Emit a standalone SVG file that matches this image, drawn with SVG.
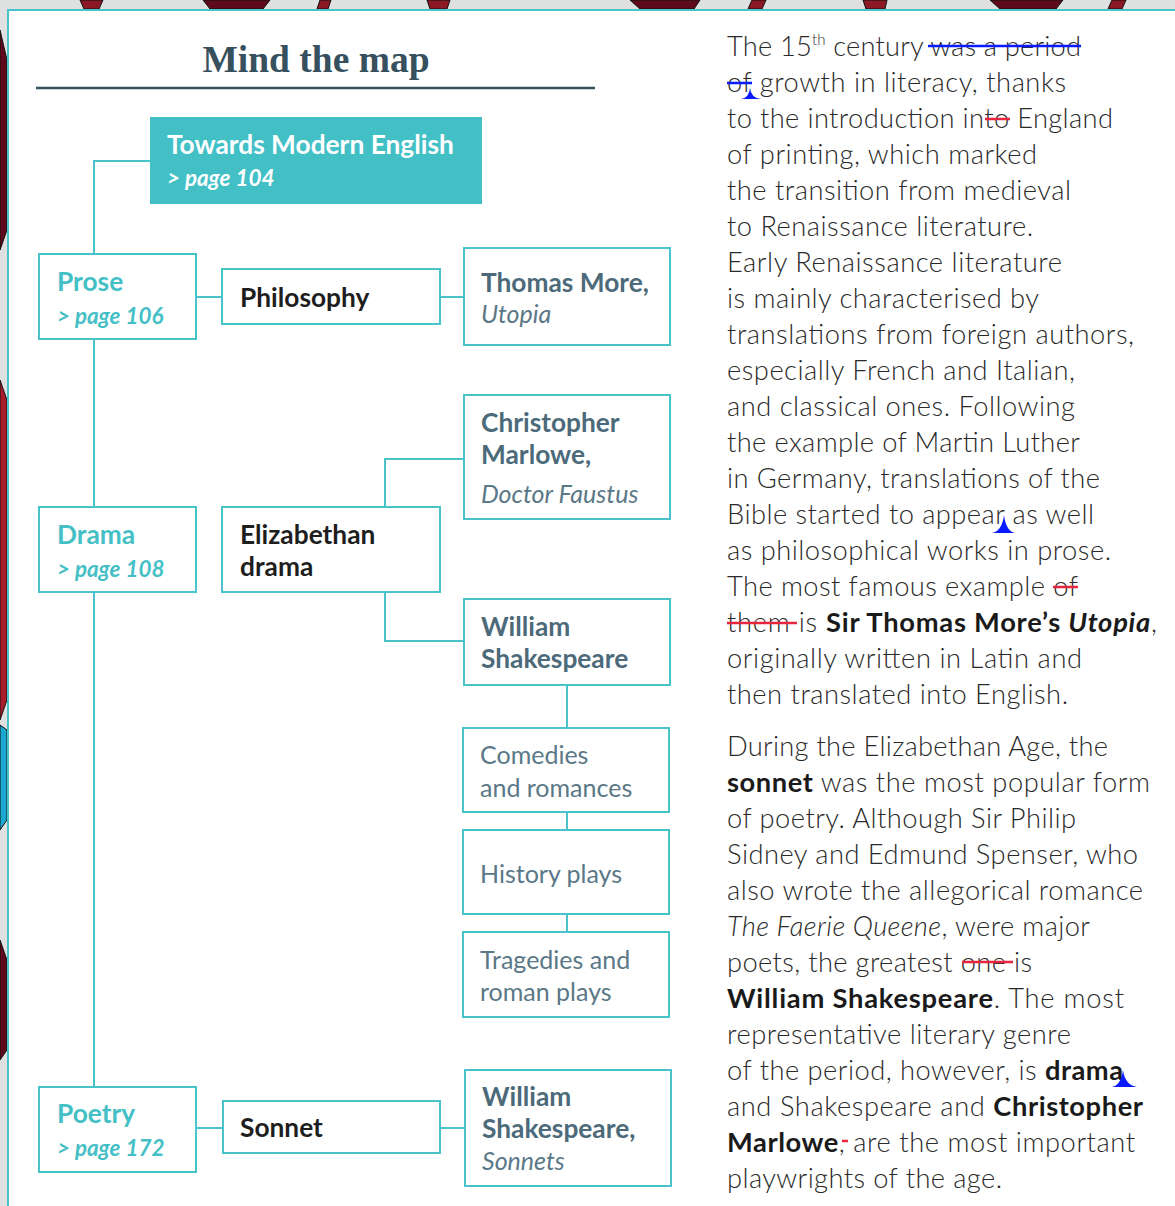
<svg xmlns="http://www.w3.org/2000/svg" width="1175" height="1206" viewBox="0 0 1175 1206">
<style>
.box{fill:#fff;stroke:#48c3c9;stroke-width:2}
.conn{fill:none;stroke:#48c3c9;stroke-width:2}
.lbl{font-family:Lato,'Open Sans',sans-serif;font-size:26.3px}
.pg{font-size:22.4px}
.teal{fill:#45bfc6;font-weight:700}
.tealit{fill:#45bfc6;font-weight:700;font-style:italic}
.slate{fill:#4c6a79;font-weight:700}
.slit{fill:#5a7887;font-style:italic;font-weight:400;font-size:25px}
.sl{fill:#5a7887;font-weight:400;font-size:25px}
.dark{fill:#1e1e1e;font-weight:700}
.body{font-family:Lato,'Open Sans',sans-serif;font-size:27.3px;fill:#2a2a2a;font-weight:300}
.b{font-weight:700;fill:#1a1a1a}
.i{font-style:italic}
.blue{stroke:#0a1aff;stroke-width:2.5}
.red{stroke:#e6263c;stroke-width:2.5}
.caret{fill:#0a1aff}
.deco{stroke:#111;stroke-width:1}
</style>
<rect x="0" y="0" width="1175" height="1206" fill="#dfe1e0"/>
<g id="decor">
<polygon class="deco" fill="#8c1826" points="80,0 103,0 99,9 84,9"/>
<polygon class="deco" fill="#5e0a1c" points="203,0 270,0 263,9 210,9"/>
<polygon class="deco" fill="#8c1826" points="320,0 331,0 328,9 317,9"/>
<polygon class="deco" fill="#8c1826" points="427,0 450,0 447,9 430,9"/>
<polygon class="deco" fill="#5e0a1c" points="630,0 700,0 694,9 640,9"/>
<polygon class="deco" fill="#8c1826" points="752,0 766,0 762,9 748,9"/>
<polygon class="deco" fill="#8c1826" points="863,0 887,0 885,9 866,9"/>
<polygon class="deco" fill="#5e0a1c" points="990,0 1063,0 1056,9 1000,9"/>
<polygon class="deco" fill="#8c1826" points="1112,0 1126,0 1122,9 1108,9"/>
<polygon class="deco" fill="#5e0a1c" points="0,30 7,60 7,230 0,250"/>
<polygon class="deco" fill="#a81c2c" points="0,380 7,400 7,700 0,720"/>
<polygon class="deco" fill="#1aa7d0" points="0,725 7,730 7,820 0,830"/>
<polygon class="deco" fill="#5e0a1c" points="0,940 7,960 7,1050 0,1060"/>
</g>
<rect x="8" y="10" width="1170" height="1200" fill="#fff" stroke="#48c3c9" stroke-width="2"/>
<g id="title">
<text x="316" y="72" text-anchor="middle" font-family="'Liberation Serif',serif" font-weight="700" font-size="37.5" fill="#36505e">Mind the map</text>
<line x1="36" y1="88" x2="595" y2="88" stroke="#36505e" stroke-width="2.5"/>
</g>
<g id="connectors">
<path class="conn" d="M150 161 H94 V254"/>
<path class="conn" d="M94 339 V507"/>
<path class="conn" d="M94 592 V1087"/>
<path class="conn" d="M196 297 H222"/>
<path class="conn" d="M440 297 H464"/>
<path class="conn" d="M385 507 V459 H464"/>
<path class="conn" d="M385 592 V641 H464"/>
<path class="conn" d="M567 685 V728"/>
<path class="conn" d="M567 812 V830"/>
<path class="conn" d="M567 914 V932"/>
<path class="conn" d="M196 1128 H223"/>
<path class="conn" d="M440 1128 H465"/>
</g>
<g id="towards">
<rect x="150" y="117" width="332" height="87" fill="#43bfc6"/>
<text class="lbl" x="167" y="154" fill="#fff" font-weight="700">Towards Modern English</text>
<text class="lbl pg" x="167" y="186" fill="#fff" font-weight="700" font-style="italic">&gt; page 104</text>
</g>
<g id="prose">
<rect class="box" x="39" y="254" width="157" height="85"/>
<text class="lbl teal" x="57" y="291">Prose</text>
<text class="lbl tealit pg" x="57" y="324">&gt; page 106</text>
</g>
<g id="philosophy">
<rect class="box" x="222" y="269" width="218" height="55"/>
<text class="lbl dark" x="240" y="307">Philosophy</text>
</g>
<g id="more">
<rect class="box" x="464" y="248" width="206" height="97"/>
<text class="lbl slate" x="481" y="292">Thomas More,</text>
<text class="lbl slit" x="481" y="323">Utopia</text>
</g>
<g id="marlowe">
<rect class="box" x="464" y="395" width="206" height="124"/>
<text class="lbl slate" x="481" y="432">Christopher</text>
<text class="lbl slate" x="481" y="464">Marlowe,</text>
<text class="lbl slit" x="481" y="503">Doctor Faustus</text>
</g>
<g id="drama">
<rect class="box" x="39" y="507" width="157" height="85"/>
<text class="lbl teal" x="57" y="544">Drama</text>
<text class="lbl tealit pg" x="57" y="577">&gt; page 108</text>
</g>
<g id="elizabethan">
<rect class="box" x="222" y="507" width="218" height="85"/>
<text class="lbl dark" x="240" y="544">Elizabethan</text>
<text class="lbl dark" x="240" y="576">drama</text>
</g>
<g id="shakespeare">
<rect class="box" x="464" y="599" width="206" height="86"/>
<text class="lbl slate" x="481" y="636">William</text>
<text class="lbl slate" x="481" y="668">Shakespeare</text>
</g>
<g id="comedies">
<rect class="box" x="463" y="728" width="206" height="84"/>
<text class="lbl sl" x="480" y="764">Comedies</text>
<text class="lbl sl" x="480" y="797">and romances</text>
</g>
<g id="history">
<rect class="box" x="463" y="830" width="206" height="84"/>
<text class="lbl sl" x="480" y="883">History plays</text>
</g>
<g id="tragedies">
<rect class="box" x="463" y="932" width="206" height="85"/>
<text class="lbl sl" x="480" y="969">Tragedies and</text>
<text class="lbl sl" x="480" y="1001">roman plays</text>
</g>
<g id="poetry">
<rect class="box" x="39" y="1087" width="157" height="85"/>
<text class="lbl teal" x="57" y="1123">Poetry</text>
<text class="lbl tealit pg" x="57" y="1156">&gt; page 172</text>
</g>
<g id="sonnet">
<rect class="box" x="223" y="1101" width="217" height="52"/>
<text class="lbl dark" x="240" y="1137">Sonnet</text>
</g>
<g id="sonnets">
<rect class="box" x="465" y="1070" width="206" height="116"/>
<text class="lbl slate" x="482" y="1106">William</text>
<text class="lbl slate" x="482" y="1138">Shakespeare,</text>
<text class="lbl slit" x="482" y="1170">Sonnets</text>
</g>
<g id="text">
<text class="body" x="727" y="56" textLength="354" lengthAdjust="spacing">The 15<tspan font-size="15" dy="-11">th</tspan><tspan dy="11"> century was a period</tspan></text>
<text class="body" x="727" y="92" textLength="339" lengthAdjust="spacing">of growth in literacy, thanks</text>
<text class="body" x="727" y="128" textLength="386" lengthAdjust="spacing">to the introduction into England</text>
<text class="body" x="727" y="164" textLength="310" lengthAdjust="spacing">of printing, which marked</text>
<text class="body" x="727" y="200" textLength="344" lengthAdjust="spacing">the transition from medieval</text>
<text class="body" x="727" y="236" textLength="306" lengthAdjust="spacing">to Renaissance literature.</text>
<text class="body" x="727" y="272" textLength="335" lengthAdjust="spacing">Early Renaissance literature</text>
<text class="body" x="727" y="308" textLength="312" lengthAdjust="spacing">is mainly characterised by</text>
<text class="body" x="727" y="344" textLength="407" lengthAdjust="spacing">translations from foreign authors,</text>
<text class="body" x="727" y="380" textLength="348" lengthAdjust="spacing">especially French and Italian,</text>
<text class="body" x="727" y="416" textLength="348" lengthAdjust="spacing">and classical ones. Following</text>
<text class="body" x="727" y="452" textLength="353" lengthAdjust="spacing">the example of Martin Luther</text>
<text class="body" x="727" y="488" textLength="373" lengthAdjust="spacing">in Germany, translations of the</text>
<text class="body" x="727" y="524" textLength="367" lengthAdjust="spacing">Bible started to appear as well</text>
<text class="body" x="727" y="560" textLength="384" lengthAdjust="spacing">as philosophical works in prose.</text>
<text class="body" x="727" y="596" textLength="351" lengthAdjust="spacing">The most famous example of</text>
<text class="body" x="727" y="632" textLength="430" lengthAdjust="spacing">them is <tspan class="b">Sir Thomas More’s <tspan class="i">Utopia</tspan></tspan>,</text>
<text class="body" x="727" y="668" textLength="355" lengthAdjust="spacing">originally written in Latin and</text>
<text class="body" x="727" y="704" textLength="341" lengthAdjust="spacing">then translated into English.</text>
<text class="body" x="727" y="756" textLength="381" lengthAdjust="spacing">During the Elizabethan Age, the</text>
<text class="body" x="727" y="792" textLength="423" lengthAdjust="spacing"><tspan class="b">sonnet</tspan> was the most popular form</text>
<text class="body" x="727" y="828" textLength="349" lengthAdjust="spacing">of poetry. Although Sir Philip</text>
<text class="body" x="727" y="864" textLength="411" lengthAdjust="spacing">Sidney and Edmund Spenser, who</text>
<text class="body" x="727" y="900" textLength="416" lengthAdjust="spacing">also wrote the allegorical romance</text>
<text class="body" x="727" y="936" textLength="363" lengthAdjust="spacing"><tspan class="i">The Faerie Queene</tspan>, were major</text>
<text class="body" x="727" y="972" textLength="305" lengthAdjust="spacing">poets, the greatest one is</text>
<text class="body" x="727" y="1008" textLength="397" lengthAdjust="spacing"><tspan class="b">William Shakespeare</tspan>. The most</text>
<text class="body" x="727" y="1044" textLength="344" lengthAdjust="spacing">representative literary genre</text>
<text class="body" x="727" y="1080" textLength="396" lengthAdjust="spacing">of the period, however, is <tspan class="b">drama</tspan></text>
<text class="body" x="727" y="1116" textLength="416" lengthAdjust="spacing">and Shakespeare and <tspan class="b">Christopher</tspan></text>
<text class="body" x="727" y="1152" textLength="408" lengthAdjust="spacing"><tspan class="b">Marlowe</tspan>, are the most important</text>
<text class="body" x="727" y="1188" textLength="275" lengthAdjust="spacing">playwrights of the age.</text>
</g>
<g id="edits">
<line class="blue" x1="928" y1="46" x2="1081" y2="46"/>
<line class="blue" x1="727" y1="83" x2="752" y2="83"/>
<path class="caret" d="M741 99 Q749 98 750 88 Q751 98 761 99 Z"/>
<line class="red" x1="985" y1="119" x2="1010" y2="119"/>
<path class="caret" d="M992 533 Q1002 531 1004 515 Q1006 531 1015 533 Z"/>
<line class="red" x1="1053" y1="587" x2="1078" y2="587"/>
<line class="red" x1="727" y1="623" x2="797" y2="623"/>
<line class="red" x1="962" y1="962" x2="1013" y2="962"/>
<path class="caret" d="M1112 1087 Q1121 1085 1123 1070 Q1125 1085 1137 1087 Z"/>
<line class="red" x1="842" y1="1141" x2="848" y2="1141"/>
</g>
</svg>
